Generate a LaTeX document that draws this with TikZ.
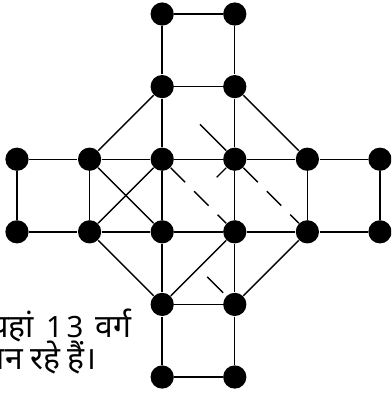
\documentclass[tikz,border=0pt]{standalone}
\usepackage{fontspec}
\newfontfamily\hindi[Script=Devanagari]{Noto Sans}
\usetikzlibrary{positioning, calc}
\tikzset{
  punto/.style={circle, fill=black, inner sep=0pt, minimum size=0.32cm},
  linea/.style={line width=0.55pt},
  discont/.style={line width=0.55pt, dash pattern=on 8pt off 5pt},
  nota/.style={anchor=base east, inner sep=0pt, font=\hindi\fontsize{12.5}{14}\selectfont}
}
\newcommand{\cifra}[1]{{\fontsize{11.5}{13}\selectfont #1}}
\begin{document}
\begin{tikzpicture}[
            node distance=1cm and 1cm, on grid
        ]
            % Marco fijo de la figura
            \useasboundingbox (-0.234,0.193) rectangle (5.152,-5.234);
            \clip (-0.234,0.193) rectangle (5.152,-5.234);

            % Fila superior central
            \node (m0) [punto] at (0,-2) {};
            \node (m1) [punto, right=of m0] {};
            \node (m2) [punto, right=of m1] {};
            \node (m3) [punto, right=of m2] {};
            \node (m4) [punto, right=of m3] {};
            \node (m5) [punto, right=of m4] {};

            % Fila inferior central
            \node (l0) [punto, below=of m0] {};
            \node (l1) [punto, below=of m1] {};
            \node (l2) [punto, below=of m2] {};
            \node (l3) [punto, below=of m3] {};
            \node (l4) [punto, below=of m4] {};
            \node (l5) [punto, below=of m5] {};

            % Brazo de arriba
            \node (u1) [punto, above=of m2] {};
            \node (u2) [punto, above=of m3] {};
            \node (t1) [punto, above=of u1] {};
            \node (t2) [punto, above=of u2] {};

            % Brazo de abajo
            \node (v1) [punto, below=of l2] {};
            \node (v2) [punto, below=of l3] {};
            \node (w1) [punto, below=of v1] {};
            \node (w2) [punto, below=of v2] {};

            % Cuadrados de los brazos
            \draw [linea] (t1) -- (t2) -- (u2) -- (u1) -- (t1);
            \draw [linea] (v1) -- (v2) -- (w2) -- (w1) -- (v1);
            \draw [linea] (m0) -- (l0);
            \draw [linea] (m1) -- (l1);
            \draw [linea] (m4) -- (l4);
            \draw [linea] (m5) -- (l5);

            % Lineas largas
            \draw [linea] (m0) -- (m1) -- (m2) -- (m3) -- (m4) -- (m5);
            \draw [linea] (l0) -- (l1) -- (l2) -- (l3) -- (l4) -- (l5);
            \draw [linea] (u1) -- (m2) -- (l2) -- (v1);
            \draw [linea] (u2) -- (m3) -- (l3) -- (v2);

            % Octagono
            \draw [linea] (u1) -- (m1);
            \draw [linea] (u2) -- (m4);
            \draw [linea] (l1) -- (v1);
            \draw [linea] (l4) -- (v2);

            % Diagonales
            \draw [linea] (m1) -- (l2);
            \draw [linea] (l1) -- (m2);
            \draw [linea] (l3) -- (v1);
            \coordinate (d1) at ($(u1)!0.52!(m3)$);
            \draw [linea] (d1) -- (m3);
            \draw [discont] (m2) -- (l3);
            \draw [discont] (m3) -- (l4);
            \coordinate (d2) at ($(m3)!0.25!(l2)$);
            \draw [linea] (m3) -- (d2);
            \coordinate (d3) at ($(l2)!0.62!(v2)$);
            \coordinate (d4) at ($(l2)!0.84!(v2)$);
            \draw [linea] (d3) -- (d4);

            % Texto
            \node (nota1) [nota] at (1.584,-4.46) {यहां\hspace{0.17cm}\cifra{1}\hspace{0.05cm}\cifra{3}\hspace{0.17cm}वर्ग};
            \node (nota2) [nota] at (1.10,-4.9) {बन\hspace{0.1cm}रहे\hspace{0.1cm}हैं।};

        \end{tikzpicture}
\end{document}
